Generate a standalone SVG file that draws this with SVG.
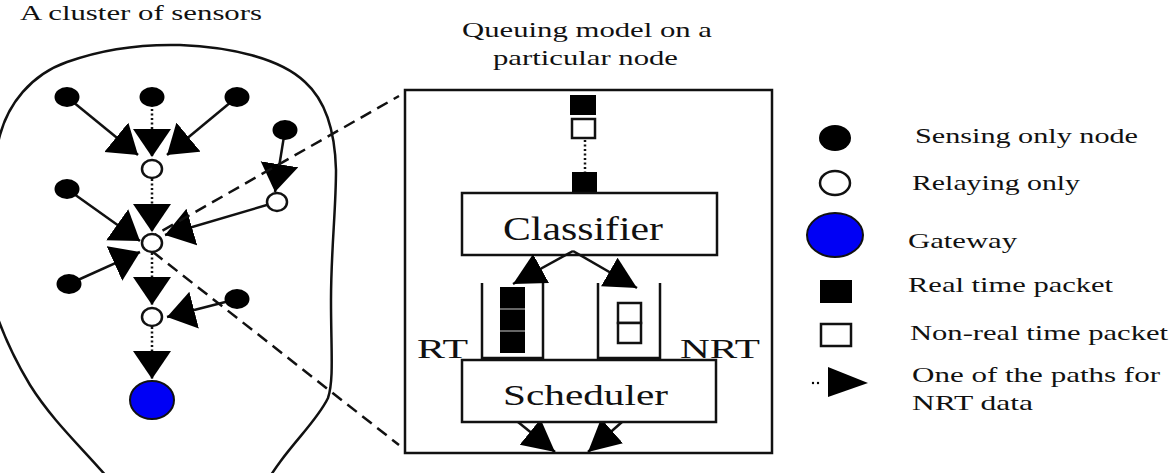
<svg xmlns="http://www.w3.org/2000/svg" width="1176" height="473" viewBox="0 0 1176 473">
<style>
text{font-family:"Liberation Serif","Times New Roman",serif;fill:#111}
.ln{stroke:#111;stroke-width:2.5;fill:none}
.dot{stroke:#111;stroke-width:2.5;fill:none;stroke-dasharray:2 2.5}
.dash{stroke:#111;stroke-width:2.5;fill:none;stroke-dasharray:12 7}
.sense{fill:#000}
.relay{fill:#fff;stroke:#111;stroke-width:2.5}
.gw{fill:#0000f5;stroke:#111;stroke-width:2}
.box{fill:#fff;stroke:#111;stroke-width:2.5}
.pk{fill:#000}
.npk{fill:#fff;stroke:#111;stroke-width:2.5}
</style>
<defs>
<marker id="ah" markerUnits="userSpaceOnUse" markerWidth="30" markerHeight="40" refX="28" refY="19" orient="auto"><path d="M0,0 L28,19 L0,38 Z" fill="#000"/></marker>
<marker id="ah2" markerUnits="userSpaceOnUse" markerWidth="34" markerHeight="34" refX="32" refY="16.5" orient="auto"><path d="M0,0 L32,16.5 L0,33 Z" fill="#000"/></marker>
</defs>

<path id="cluster-outline" class="ln" d="M0,135 C8,105 30,75 67,62 C100,50 140,44 180,45 C230,47 280,58 305,82 C325,100 335,130 336,170 C336,210 331,250 331,300 C331,350 334,380 328,398 C315,425 285,448 262,490 L118,490 C90,455 55,425 30,385 C15,360 5,340 -5,310 C-12,260 -12,180 0,135 Z"/>

<text x="20" y="20" font-size="21" textLength="242" lengthAdjust="spacingAndGlyphs">A cluster of sensors</text>
<text x="462" y="37" font-size="21" textLength="250" lengthAdjust="spacingAndGlyphs">Queuing model on a</text>
<text x="493" y="65" font-size="21" textLength="185" lengthAdjust="spacingAndGlyphs">particular node</text>

<g id="connectors">
<line class="ln" x1="67" y1="97" x2="138" y2="155" marker-end="url(#ah)"/>
<line class="dot" x1="152" y1="109" x2="152" y2="157" marker-end="url(#ah)"/>
<line class="ln" x1="237" y1="97" x2="167" y2="155" marker-end="url(#ah)"/>
<line class="ln" x1="285" y1="130" x2="275" y2="192" marker-end="url(#ah)"/>
<line class="dot" x1="152" y1="179" x2="152" y2="232" marker-end="url(#ah)"/>
<line class="ln" x1="67" y1="189" x2="140" y2="241" marker-end="url(#ah)"/>
<line class="ln" x1="277" y1="202" x2="165" y2="235" marker-end="url(#ah)"/>
<line class="ln" x1="69" y1="284" x2="140" y2="252" marker-end="url(#ah)"/>
<line class="dot" x1="152" y1="253" x2="152" y2="305" marker-end="url(#ah)"/>
<line class="ln" x1="237" y1="299" x2="167" y2="317" marker-end="url(#ah)"/>
<line class="dot" x1="152" y1="327" x2="152" y2="379" marker-end="url(#ah)"/>
<line class="dash" x1="146" y1="240" x2="399" y2="96"/>
<line class="dash" x1="153" y1="252" x2="399" y2="445"/>
</g>

<g id="sensing-nodes">
<ellipse class="sense" cx="67" cy="97" rx="12.5" ry="10"/>
<ellipse class="sense" cx="152" cy="97" rx="12.5" ry="10"/>
<ellipse class="sense" cx="237" cy="97" rx="12.5" ry="10"/>
<ellipse class="sense" cx="285" cy="130" rx="12.5" ry="10"/>
<ellipse class="sense" cx="67" cy="189" rx="12.5" ry="10"/>
<ellipse class="sense" cx="69" cy="284" rx="12.5" ry="10"/>
<ellipse class="sense" cx="237" cy="299" rx="12.5" ry="10"/>
</g>
<g id="relay-nodes">
<ellipse class="relay" cx="152" cy="169" rx="10" ry="9"/>
<ellipse class="relay" cx="277" cy="202" rx="10" ry="9"/>
<ellipse class="relay" cx="152" cy="243" rx="10" ry="9"/>
<ellipse class="relay" cx="152" cy="317" rx="10" ry="9"/>
</g>
<g id="gateway">
<ellipse class="gw" cx="152" cy="400" rx="22" ry="19"/>
</g>

<g id="queue-model">
<rect class="box" x="405" y="90" width="367" height="363" fill="none"/>
<rect class="pk" x="570" y="95" width="26" height="20"/>
<rect class="npk" x="572" y="119" width="23" height="19"/>
<line class="dot" x1="585" y1="140" x2="585" y2="172"/>
<rect class="pk" x="572" y="172" width="25" height="21"/>
</g>
<g id="classifier">
<rect class="box" x="462" y="193" width="255" height="62"/>
<text x="503" y="240" font-size="33" textLength="160" lengthAdjust="spacingAndGlyphs">Classifier</text>
</g>
<g id="rt-queue">
<polyline class="ln" points="482,283 482,358 543,358 543,283"/>
<rect class="pk" x="500" y="287" width="25" height="66"/>
<line x1="500" y1="309" x2="525" y2="309" stroke="#888" stroke-width="1.5"/>
<line x1="500" y1="331" x2="525" y2="331" stroke="#888" stroke-width="1.5"/>
<text x="417" y="358" font-size="28" textLength="51" lengthAdjust="spacingAndGlyphs">RT</text>
</g>
<g id="nrt-queue">
<polyline class="ln" points="598,283 598,358 660,358 660,283"/>
<rect class="npk" x="618" y="303" width="23" height="20"/>
<rect class="npk" x="618" y="323" width="23" height="20"/>
<text x="680" y="358" font-size="28" textLength="80" lengthAdjust="spacingAndGlyphs">NRT</text>
</g>
<g id="queue-arrows">
<line class="ln" x1="573" y1="251" x2="513" y2="284" marker-end="url(#ah2)"/>
<line class="ln" x1="573" y1="251" x2="637" y2="288" marker-end="url(#ah2)"/>
<line class="ln" x1="518" y1="422" x2="555" y2="452" marker-end="url(#ah2)"/>
<line class="ln" x1="622" y1="422" x2="588" y2="452" marker-end="url(#ah2)"/>
</g>
<g id="scheduler">
<rect class="box" x="462" y="360" width="254" height="62"/>
<text x="503" y="405" font-size="30" textLength="165" lengthAdjust="spacingAndGlyphs">Scheduler</text>
</g>

<g id="legend">
<ellipse class="sense" cx="835" cy="138" rx="16" ry="13"/>
<text x="915" y="143" font-size="22" textLength="223" lengthAdjust="spacingAndGlyphs">Sensing only node</text>
<ellipse class="relay" cx="835" cy="183" rx="15" ry="12"/>
<text x="912" y="190" font-size="22" textLength="168" lengthAdjust="spacingAndGlyphs">Relaying only</text>
<ellipse class="gw" cx="835" cy="235" rx="28" ry="22"/>
<text x="908" y="248" font-size="22" textLength="109" lengthAdjust="spacingAndGlyphs">Gateway</text>
<rect class="pk" x="820" y="280" width="32" height="23"/>
<text x="908" y="292" font-size="22" textLength="205" lengthAdjust="spacingAndGlyphs">Real time packet</text>
<rect class="npk" x="821" y="324" width="30" height="22"/>
<text x="910" y="340" font-size="22" textLength="258" lengthAdjust="spacingAndGlyphs">Non-real time packet</text>
<circle cx="813" cy="383" r="1.2" fill="#000"/>
<circle cx="818" cy="383" r="1.2" fill="#000"/>
<path d="M828,367 L868,383 L828,397 Z" fill="#000"/>
<text x="912" y="382" font-size="22" textLength="248" lengthAdjust="spacingAndGlyphs">One of the paths for</text>
<text x="912" y="410" font-size="22" textLength="121" lengthAdjust="spacingAndGlyphs">NRT data</text>
</g>
</svg>
